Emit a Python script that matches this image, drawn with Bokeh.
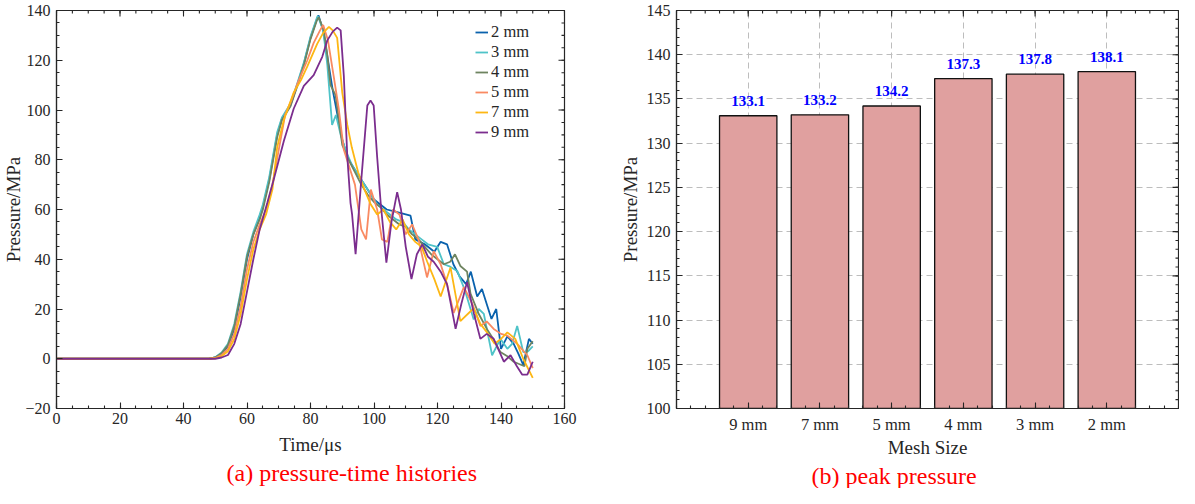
import math
from bokeh.plotting import figure
from bokeh.models import Range1d, FixedTicker, Title, ColumnDataSource
from bokeh.layouts import row
from bokeh.embed import file_html
from bokeh.resources import INLINE
from bokeh.core.properties import value

SERIF = "Liberation Serif"
AX = "#262626"

# ---------------- (a) pressure-time histories ----------------
time_2mm = [0, 48, 50, 52, 54, 56, 58, 60, 62, 64, 65, 67, 69.5, 71, 73.7, 75.8, 78, 80, 82, 82.5,
            84, 85.5, 87, 88.5, 90, 92, 94, 96, 98, 100, 102, 104, 107, 110, 111.5, 113, 116, 119, 121, 123,
            125, 127, 129, 130.5, 132.5, 134, 137, 138.5, 140, 142, 144, 145.5, 147, 148.8, 150]
pres_2mm = [0, 0, 0.5, 2, 5, 12, 25, 40, 50, 57, 61, 72, 90, 96.5, 102, 110, 119, 129, 136.5, 138.1,
            132, 120, 108, 98, 88, 80, 76, 72, 68, 64, 62, 60, 59, 58, 57.5, 48, 46, 43, 47, 46,
            38, 33, 30, 35, 25, 28, 16, 20, 4, 9, 6, 2, -2.5, 8, 6]

time_3mm = [0, 48, 50, 52, 54, 56, 58, 60, 62, 64, 65, 67, 69.5, 71, 73.7, 75.8, 78, 80, 82, 82.3,
            84, 85.3, 86.8, 88, 89.5, 91, 93, 95, 97, 99, 101, 103, 105, 107, 109, 111, 113, 115, 117, 119.9,
            122, 124, 126.2, 128.5, 131.4, 133, 134.6, 137.2, 139.8, 142, 143.5, 145.1, 147, 148.5, 150]
pres_3mm = [0, 0, 0.6, 2.5, 6, 14, 27, 42, 51, 58, 62, 73, 91, 97, 102.5, 110.5, 119.5, 129.5, 137, 137.8,
            132, 118, 94, 98, 90, 84, 78, 74, 70, 66, 62, 60, 58, 56, 55, 52, 50, 48, 46, 45,
            38, 37, 35.3, 28, 15.8, 20, 18, 1.4, 8, 4, 6, 13.2, 2.7, 3, 5]

time_4mm = [0, 48, 50, 52, 54, 56, 58, 60, 62, 64, 65, 67, 69.5, 71, 73.7, 75.8, 78, 80, 82, 82.6,
            84.2, 85.3, 86.3, 87.9, 90, 92, 94, 96, 98, 100, 102, 104, 106, 108, 110, 112, 114, 116, 118, 120,
            122, 124, 125.5, 127.2, 129.3, 130.4, 133, 135.6, 137.5, 139.8, 142, 144, 145.5, 147.4, 148.3, 150]
pres_4mm = [0, 0, 0.5, 2.2, 5.5, 13, 26, 41, 50, 56, 60, 71, 89, 96, 101.5, 109.5, 118.5, 128.5, 136, 137.3,
            132, 122, 110, 106, 86, 80, 75, 70, 66, 63, 61, 58, 56, 54, 53, 50, 48, 45, 42, 40,
            38, 39, 42, 37.3, 35, 26.2, 18, 11.9, 8, 2.7, 1, -1.2, -2, -3, 4, 7]

time_5mm = [0, 48, 50, 52, 54, 56, 58, 60, 62, 64, 66, 68, 70, 72, 74, 76, 79, 81, 83, 84,
            85.5, 87.3, 88.9, 90.5, 92, 94, 96, 97.5, 99, 101, 102.5, 104.2, 106, 108, 110, 112, 114, 116.7, 118.8, 121,
            123, 125.1, 128.3, 131, 133.5, 135.5, 137.7, 140, 142, 145.1, 148.3, 150]
pres_5mm = [0, 0, 0.3, 1.5, 4, 10, 21, 36, 47, 54, 60, 70, 84, 98, 104, 111, 120, 127, 132, 134.2,
            128, 113.6, 100.5, 84, 78, 70, 52, 48, 68, 60, 48, 47, 60, 58, 50, 54, 48, 32.7, 43.2, 38,
            30, 18.4, 28.8, 22, 13.2, 15, 12, 10, 9.3, 6, 1.4, -3.8]

time_7mm = [0, 48, 50, 52, 54, 56, 58, 60, 62, 64, 66, 68, 69.5, 71.6, 74.7, 77, 79, 82.1, 84, 85.8,
            87, 88.4, 90, 91.6, 93, 95, 97, 99, 101, 103, 105, 107, 109, 111, 113, 115, 116.7, 119, 121, 124.1,
            127.2, 131.4, 133.5, 135.6, 138, 140, 142, 144.5, 147, 150]
pres_7mm = [0, 0, 0.2, 1, 3, 8, 18, 32, 44, 52, 58, 68, 85, 96, 107, 112, 117.5, 126.6, 131, 133.4,
            132, 129, 107, 94, 85, 75, 68, 62, 58, 60, 55, 52, 56, 50, 47, 45, 39.2, 32, 25, 36.7,
            15.1, 20.3, 14, 10.6, 6, 8, 10.6, 8, 0, -7.7]

time_9mm = [0, 48, 50, 52, 54, 56, 58, 60, 62, 64, 66.4, 68.4, 71.6, 74.7, 77.9, 81, 83.7, 85.3, 87, 88.4,
            89.5, 90.5, 91.6, 92.6, 93.1, 94.2, 96, 97.9, 98.9, 99.9, 101, 102.1, 103.9, 105.5, 107.3, 108.5, 110, 111.8, 113.5, 115.2,
            117, 118.8, 121, 123, 125.7, 127.5, 129.3, 131.5, 133.5, 135.5, 137.7, 140.9, 143, 145, 146.7, 148.3, 150]
pres_9mm = [0, 0, 0, 0.5, 1.5, 6, 14, 27, 40, 52, 62.7, 72, 87.5, 100.5, 109.7, 114, 121.4, 128, 131.5, 133.1,
            132, 113.6, 81, 62.7, 58, 42, 72, 101.8, 103.8, 101.8, 81, 62.7, 38.6, 55, 67, 60, 45, 32, 42, 46,
            41, 39, 35, 30, 12, 22, 30.8, 18, 8, 10, 8, -1.2, 1.4, -3, -6.4, -6.4, -1.2]

series_names = ["2 mm", "3 mm", "4 mm", "5 mm", "7 mm", "9 mm"]
series_times = [time_2mm, time_3mm, time_4mm, time_5mm, time_7mm, time_9mm]
series_pres = [pres_2mm, pres_3mm, pres_4mm, pres_5mm, pres_7mm, pres_9mm]
series_colors = ["#0A62AD", "#4FC3C8", "#6E8460", "#F98A62", "#FDB714", "#7B2D8E"]

time_ticks = list(range(0, 161, 20))
time_minor = list(range(0, 161, 5))
pres_ticks = list(range(-20, 141, 20))
pres_minor = list(range(-20, 141, 5))

# ---------------- (b) peak pressure ----------------
mesh_labels = ["9 mm", "7 mm", "5 mm", "4 mm", "3 mm", "2 mm"]
peak_values = [133.1, 133.2, 134.2, 137.3, 137.8, 138.1]
peak_ticks = list(range(100, 146, 5))
peak_minor = list(range(100, 146, 1))

# ---------------- layout (pixels) ----------------
L_W, L_H, L_BL, L_BR, L_BT, L_BB = 600, 488, 56, 36, 10, 79
R_W, R_H, R_BL, R_BR, R_BT, R_BB = 579, 488, 76, 1, 10, 79
MAJ, MIN = 6, 3           # inward tick lengths


def style_axis(ax, fs="16px"):
    ax.axis_line_color = AX
    ax.axis_line_width = 1.2
    ax.major_tick_line_color = AX
    ax.minor_tick_line_color = AX
    ax.major_tick_line_width = 1.1
    ax.minor_tick_line_width = 1.1
    ax.major_tick_in = MAJ
    ax.major_tick_out = 0
    ax.minor_tick_in = MIN
    ax.minor_tick_out = 0
    ax.major_label_text_font = SERIF
    ax.major_label_text_color = AX
    ax.major_label_text_font_size = fs
    ax.axis_label_text_font = SERIF
    ax.axis_label_text_font_style = "normal"
    ax.axis_label_text_font_size = "19px"
    ax.axis_label_text_color = AX


def mirror_ticks(p, xmaj, xmin, ymaj, ymin, x_end, y_end):
    """Inward ticks on the top and right edges (half of each dash is clipped by the frame)."""
    for xs, L in ((xmin, MIN), (xmaj, MAJ)):
        p.scatter(xs, [y_end] * len(xs), marker="dash", size=2 * L, angle=math.pi / 2,
                  line_color=AX, line_width=1.1)
    for ys, L in ((ymin, MIN), (ymaj, MAJ)):
        p.scatter([x_end] * len(ys), ys, marker="dash", size=2 * L,
                  line_color=AX, line_width=1.1)


def caption(text, offset):
    return Title(text=text, align="left", offset=offset, standoff=0,
                 text_font=SERIF, text_font_size="24px", text_font_style="normal",
                 text_color="#FF0000")


# ---------- figure (a) ----------
p1 = figure(width=L_W, height=L_H, x_range=Range1d(time_ticks[0], time_ticks[-1]),
            y_range=Range1d(pres_ticks[0], pres_ticks[-1]),
            output_backend="svg", toolbar_location=None,
            min_border_left=L_BL, min_border_right=L_BR, min_border_top=L_BT, min_border_bottom=L_BB,
            x_axis_label="Time/μs", y_axis_label="Pressure/MPa")
p1.grid.visible = False
p1.outline_line_color = AX
p1.outline_line_width = 1.2
p1.xaxis[0].ticker = FixedTicker(ticks=time_ticks, minor_ticks=time_minor)
p1.yaxis[0].ticker = FixedTicker(ticks=pres_ticks, minor_ticks=pres_minor)
style_axis(p1.xaxis[0])
style_axis(p1.yaxis[0])
p1.xaxis[0].major_label_standoff = 4
p1.xaxis[0].axis_label_standoff = 7
p1.yaxis[0].major_label_standoff = 6
p1.yaxis[0].axis_label_standoff = -2
mirror_ticks(p1, time_ticks, time_minor, pres_ticks, pres_minor, time_ticks[-1], pres_ticks[-1])

for name, tt, pp, col in zip(series_names, series_times, series_pres, series_colors):
    p1.line(tt, pp, line_color=col, line_width=1.8, legend_label=name)

lg = p1.legend[0]
lg.location = (419, 266)
lg.border_line_color = None
lg.background_fill_color = "white"
lg.background_fill_alpha = 1
lg.label_text_font = SERIF
lg.label_text_font_size = "16.5px"
lg.label_text_color = AX
lg.glyph_width = 13
lg.glyph_height = 20
lg.label_height = 20
lg.label_standoff = 3
lg.spacing = 0
lg.padding = 2
lg.margin = 0

p1.add_layout(caption("(a) pressure-time histories", 170), "below")

# ---------- figure (b) ----------
x_pos = [i + 1 for i in range(len(mesh_labels))]
x_end = len(mesh_labels) + 1
x_minor = [round(i * 0.2, 1) for i in range(int(x_end / 0.2) + 1)]
src = ColumnDataSource(dict(x=x_pos, top=peak_values,
                            lbl=[f"{v:.1f}" for v in peak_values]))

p2 = figure(width=R_W, height=R_H, x_range=Range1d(0, x_end),
            y_range=Range1d(peak_ticks[0], peak_ticks[-1]),
            output_backend="svg", toolbar_location=None,
            min_border_left=R_BL, min_border_right=R_BR, min_border_top=R_BT, min_border_bottom=R_BB,
            x_axis_label="Mesh Size", y_axis_label="Pressure/MPa")
p2.outline_line_color = AX
p2.outline_line_width = 1.2
p2.xaxis[0].ticker = FixedTicker(ticks=x_pos, minor_ticks=x_minor)
p2.yaxis[0].ticker = FixedTicker(ticks=peak_ticks, minor_ticks=peak_minor)
p2.xaxis[0].major_label_overrides = {x: lbl for x, lbl in zip(x_pos, mesh_labels)}
style_axis(p2.xaxis[0], fs="16.5px")
style_axis(p2.yaxis[0])
p2.xaxis[0].major_label_standoff = 6
p2.xaxis[0].axis_label_standoff = 0
p2.yaxis[0].major_label_standoff = 6
p2.yaxis[0].axis_label_standoff = 3

p2.grid.grid_line_color = "#BDBDBD"
p2.grid.grid_line_dash = "6 4"
p2.grid.grid_line_width = 1

p2.vbar(x="x", top="top", bottom=peak_ticks[0], width=0.8, source=src,
        fill_color="#E0A09F", line_color="#111111", line_width=1.3)
p2.text(x="x", y="top", text="lbl", source=src, text_font=value(SERIF),
        text_font_style="bold", text_font_size="15px", text_color="#0000FF",
        text_align="center", text_baseline="middle", y_offset=-15)
mirror_ticks(p2, x_pos, x_minor, peak_ticks, peak_minor, x_end, peak_ticks[-1])

p2.add_layout(caption("(b) peak pressure", 135), "below")

layout = row(p1, p2)
open("out.html", "w").write(file_html(layout, INLINE))
